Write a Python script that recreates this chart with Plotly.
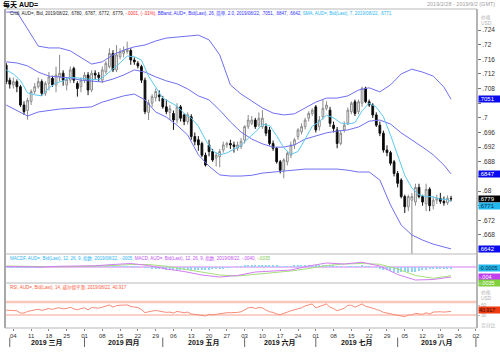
import plotly.graph_objects as go
import pandas as pd

# ---------------- data ----------------
dates = [d.strftime("%Y-%m-%d") for d in pd.bdate_range("2019-02-28", "2019-08-22")]
axis_days = pd.bdate_range("2019-02-28", "2019-09-02")

open_ = [.7144,.7103,.7090,.7099,.7085,.7035,.7020,.7045,.7072,.7085,
         .7099,.7067,.7094,.7108,.7090,.7112,.7122,.7090,.7103,.7135,
         .7094,.7085,.7103,.7117,.7076,.7122,.7117,.7103,.7126,.7140,
         .7176,.7131,.7167,.7176,.7181,.7184,.7158,.7149,.7140,.7103,
         .7015,.7040,.7055,.7062,.7053,.7030,.7015,.7012,.6994,.7030,
         .7008,.6990,.7003,.6949,.6940,.6930,.6898,.6926,.6908,.6890,
         .6894,.6912,.6926,.6930,.6926,.6917,.6922,.6939,.6976,.6985,
         .6994,.6980,.6976,.6976,.6967,.6930,.6917,.6880,.6857,.6880,
         .6898,.6926,.6949,.6962,.6976,.6999,.7012,.7030,.6976,.7003,
         .7026,.7021,.6980,.6967,.6930,.6967,.6985,.7017,.7044,.7017,
         .7040,.7081,.7044,.7035,.7008,.6980,.6958,.6912,.6905,.6880,
         .6848,.6830,.6785,.6757,.6775,.6770,.6810,.6785,.6765,.6805,
         .6760,.6775,.6780,.6772,.6768,.6780]
high = [.7150,.7110,.7110,.7105,.7090,.7045,.7055,.7078,.7095,.7110,
        .7105,.7100,.7125,.7115,.7140,.7172,.7130,.7110,.7140,.7140,
        .7100,.7110,.7125,.7125,.7130,.7130,.7125,.7140,.7155,.7190,
        .7185,.7199,.7190,.7195,.7208,.7190,.7165,.7155,.7145,.7110,
        .7050,.7065,.7080,.7075,.7060,.7050,.7035,.7020,.7040,.7035,
        .7012,.7015,.7010,.6960,.6950,.6935,.6905,.6940,.6915,.6905,
        .6915,.6935,.6935,.6940,.6935,.6935,.6945,.6980,.7008,.7005,
        .7000,.7015,.7021,.6985,.6975,.6938,.6920,.6885,.6890,.6908,
        .6935,.6945,.6972,.6985,.7000,.7018,.7026,.7035,.7005,.7049,
        .7045,.7030,.6990,.6975,.6965,.6990,.7028,.7045,.7050,.7050,
        .7085,.7085,.7050,.7040,.7015,.6990,.6965,.6925,.6910,.6885,
        .6855,.6835,.6790,.6790,.6795,.6820,.6820,.6790,.6820,.6810,
        .6785,.6790,.6795,.6785,.6788,.6787]
low = [.7092,.7080,.7080,.7070,.7030,.7008,.6995,.7035,.7065,.7080,
       .7060,.7060,.7075,.7085,.7070,.7100,.7088,.7075,.7095,.7095,
       .7058,.7070,.7095,.7062,.7070,.7105,.7100,.7095,.7120,.7135,
       .7125,.7125,.7160,.7165,.7175,.7145,.7145,.7135,.7095,.7010,
       .6994,.7030,.7045,.7045,.7025,.7010,.6995,.6967,.6985,.6990,
       .6980,.6982,.6940,.6925,.6910,.6893,.6867,.6895,.6880,.6867,
       .6865,.6905,.6918,.6915,.6905,.6910,.6915,.6930,.6970,.6980,
       .6970,.6975,.6970,.6950,.6925,.6910,.6875,.6848,.6835,.6870,
       .6890,.6915,.6940,.6955,.6968,.6990,.7005,.6960,.6965,.6995,
       .7020,.6975,.6960,.6917,.6925,.6960,.6980,.7010,.7005,.7010,
       .7030,.7040,.7030,.7000,.6975,.6950,.6905,.6895,.6870,.6840,
       .6810,.6780,.6740,.6745,.6600,.6760,.6780,.6760,.6745,.6745,
       .6750,.6765,.6765,.6760,.6762,.6772]
close = [.7099,.7092,.7099,.7085,.7035,.7017,.7048,.7072,.7085,.7099,
         .7067,.7094,.7112,.7090,.7117,.7122,.7103,.7105,.7131,.7103,
         .7080,.7103,.7117,.7076,.7122,.7117,.7110,.7131,.7149,.7176,
         .7131,.7172,.7181,.7184,.7187,.7158,.7153,.7142,.7103,.7017,
         .7040,.7058,.7072,.7058,.7030,.7017,.7025,.6994,.7030,.6999,
         .6990,.7008,.6949,.6935,.6926,.6898,.6871,.6908,.6885,.6898,
         .6908,.6926,.6930,.6926,.6922,.6926,.6936,.6976,.6994,.6994,
         .6976,.6999,.6999,.6958,.6930,.6917,.6880,.6857,.6885,.6903,
         .6926,.6940,.6967,.6976,.6994,.7012,.7021,.6967,.6994,.7026,
         .7035,.6985,.6971,.6930,.6958,.6980,.7021,.7040,.7012,.7044,
         .7081,.7044,.7035,.7008,.6980,.6958,.6912,.6905,.6876,.6848,
         .6821,.6785,.6757,.6785,.6785,.6810,.6785,.6770,.6805,.6760,
         .6775,.6780,.6772,.6768,.6780,.6779]

# Bollinger (26, 2.0) read every 3rd trading day + last day
bb_upper = [.7289,.7289,.7243,.7196,.7191,.7191,.7183,.7164,.7147,.7153,
            .7172,.7185,.7194,.7199,.7210,.7218,.7221,.7224,.7226,.7213,
            .7172,.7090,.7065,.7046,.7027,.7013,.7008,.7011,.7027,.7043,
            .7054,.7054,.7060,.7076,.7082,.7071,.7090,.7120,.7133,.7125,
            .7114,.7084,.7051]
bb_mid = [.7153,.7150,.7142,.7125,.7114,.7112,.7109,.7103,.7101,.7098,
          .7106,.7117,.7131,.7125,.7112,.7101,.7093,.7079,.7060,.7049,
          .7021,.6989,.6961,.6942,.6929,.6920,.6920,.6926,.6942,.6950,
          .6959,.6964,.6967,.6975,.6991,.6994,.6983,.6959,.6940,.6920,
          .6899,.6871,.6847]
bb_lower = [.7035,.7021,.7005,.7016,.7021,.7024,.7026,.7027,.7030,.7043,
            .7051,.7060,.7065,.7049,.7016,.7002,.6980,.6953,.6899,.6868,
            .6844,.6841,.6841,.6843,.6849,.6852,.6855,.6857,.6860,.6860,
            .6860,.6860,.6857,.6852,.6852,.6830,.6762,.6707,.6680,.6666,
            .6655,.6647,.6642]
# SMA 7, read every 2nd trading day + last day
sma7 = [.7131,.7120,.7102,.7068,.7063,.7060,.7082,.7095,.7101,.7111,
        .7109,.7106,.7105,.7104,.7117,.7134,.7150,.7169,.7167,.7158,
        .7114,.7084,.7054,.7043,.7032,.7012,.6999,.6977,.6940,.6910,
        .6899,.6904,.6914,.6925,.6944,.6961,.6982,.6979,.6951,.6918,
        .6900,.6908,.6942,.6977,.6990,.7007,.7000,.6986,.6983,.6987,
        .7019,.7040,.7029,.7003,.6953,.6900,.6843,.6808,.6790,.6785,
        .6784,.6778,.6777,.6771]
# MACD (12, 26, 9), read every 5th trading day
macd = [.0002,.0000,.0000,.0003,.0004,.0005,.0010,.0014,.0006,-.0008,
        -.0018,-.0032,-.0040,-.0034,-.0020,-.0016,-.0012,.0004,.0016,.0012,
        .0019,.0004,-.0030,-.0052,-.0050,-.0040]
macd_signal = [.0004,.0002,.0001,.0001,.0002,.0003,.0006,.0010,.0010,.0003,
               -.0008,-.0020,-.0032,-.0036,-.0030,-.0022,-.0016,-.0006,.0006,.0012,
               .0014,.0011,-.0008,-.0034,-.0045,-.0035]
# MACD histogram, every trading day (units of 0.0001)
macd_hist = [-2,-2,-2,-2,-2,-2,-2,-1,-1,-1,-1,0,1,1,2,2,2,2,2,2,
             2,2,2,2,2,2,2,3,3,4,4,4,4,4,4,4,3,2,0,-2,
             -4,-5,-5,-6,-6,-11,-10,-10,-10,-10,-10,-10,-11,-11,-12,-12,-12,-10,-9,-8,
             -8,-6,-4,-2,0,2,4,6,8,10,10,10,10,8,7,6,5,4,4,4,
             4,5,6,8,9,10,10,9,9,10,10,8,6,3,2,0,1,1,2,3,
             5,4,2,0,-3,-7,-10,-13,-16,-18,-22,-20,-20,-19,-18,-18,-15,-12,-10,-8,
             -6,-5,-5,-5,-5,-5]
# RSI 14, every trading day
rsi = [45,44,45,43,36,36,41,44,46,48,44,48,50,47,51,52,49,50,54,49,
       46,50,52,46,53,52,51,54,57,61,54,59,60,61,61,56,55,53,47,37,
       40,42,44,42,39,38,39,36,41,38,37,39,33,32,31,29,27,32,30,32,
       34,37,37,37,37,38,40,47,52,54,50,53,52,45,40,38,33,31,36,39,
       43,46,50,52,58,62,64,52,56,62,64,54,50,43,48,51,60,60,54,58,
       64,57,55,51,47,44,38,37,34,31,29,26,25,30,30,35,33,32,37,33,
       39,40,40,39,41,40.917]

price_ticks = [.668,.672,.676,.68,.684,.688,.692,.696,.7,.704,.708,.712,.716,.72,.724]
price_tick_labels = [".668",".672","",".68","",".688",".692",".696",".7",
                     "",".708",".712",".716",".72",".724"]
day_tick_labels = ["04","11","18","25","01","08","15","22","29","06","13","20","27",
                   "03","10","17","24","01","08","15","22","29","05","12","19","26","02"]
month_labels = ["2019 三月","2019 四月","2019 五月","2019 六月","2019 七月","2019 八月"]
rsi_ticks = [60, 30]

# ---------------- geometry helpers (pixels -> paper) ----------------
W, H = 500, 352
PL, PR, PT, PB = 5, 477, 9, 328
def px(x): return (x - PL) / (PR - PL)
def py(y): return (PB - y) / (PB - PT)

n = len(dates)
xi = list(range(n))
mondays = [k for k, d in enumerate(axis_days) if d.weekday() == 0]
month_starts = [k for k, d in enumerate(axis_days) if k > 0 and d.month != axis_days[k - 1].month]

FONT = "Liberation Sans, Arial, Noto Sans CJK SC, sans-serif"
C_BAND = "#6f6ff0"
C_SMA = "#5cc8f0"
C_MACD = "#d37cf2"
C_SIG = "#a6e07a"
C_HIST = "#8fd3f5"
C_RSI = "#f58a75"

fig = go.Figure()
fig.add_trace(go.Candlestick(
    x=xi, open=open_, high=high, low=low, close=close,
    increasing=dict(line=dict(color="#8a8a8a", width=1), fillcolor="#ffffff"),
    decreasing=dict(line=dict(color="#111111", width=1), fillcolor="#000000"),
    whiskerwidth=0, showlegend=False, hoverinfo="skip", xaxis="x", yaxis="y"))

bx = list(range(0, n, 3)) + [n - 1]
for vals in (bb_upper, bb_mid, bb_lower):
    fig.add_trace(go.Scatter(x=bx, y=vals, mode="lines", line=dict(color=C_BAND, width=1),
                             showlegend=False, hoverinfo="skip", yaxis="y"))
sx = list(range(0, n, 2)) + [n - 1]
fig.add_trace(go.Scatter(x=sx, y=sma7, mode="lines", line=dict(color=C_SMA, width=1),
                         showlegend=False, hoverinfo="skip", yaxis="y"))

mx = list(range(0, n, 5))
fig.add_trace(go.Bar(x=xi, y=[h / 10000 for h in macd_hist], marker=dict(color=C_HIST, line=dict(width=0)),
                     width=0.35, showlegend=False, hoverinfo="skip", yaxis="y2"))
fig.add_trace(go.Scatter(x=mx, y=macd_signal, mode="lines", line=dict(color=C_SIG, width=1),
                         showlegend=False, hoverinfo="skip", yaxis="y2"))
fig.add_trace(go.Scatter(x=mx, y=macd, mode="lines", line=dict(color=C_MACD, width=1),
                         showlegend=False, hoverinfo="skip", yaxis="y2"))

fig.add_trace(go.Scatter(x=xi, y=rsi, mode="lines", line=dict(color=C_RSI, width=1),
                         showlegend=False, hoverinfo="skip", yaxis="y3"))

shapes = []
shapes.append(dict(type="line", xref="paper", yref="y2", x0=0, x1=1, y0=0, y1=0,
                   line=dict(color=C_MACD, width=1), layer="below"))
shapes.append(dict(type="line", xref="paper", yref="y3", x0=0, x1=1, y0=70, y1=70,
                   line=dict(color="#f9c6ba", width=2.5), layer="below"))
shapes.append(dict(type="line", xref="paper", yref="y3", x0=0, x1=1, y0=30, y1=30,
                   line=dict(color="#f4a08e", width=1), layer="below"))
shapes.append(dict(type="line", xref="paper", yref="paper", x0=0, x1=0, y0=py(PT), y1=py(PB),
                   line=dict(color="#a8a8a8", width=2)))
shapes.append(dict(type="line", xref="paper", yref="paper", x0=1, x1=1, y0=py(PT), y1=py(PB),
                   line=dict(color="#b4b4b4", width=2)))
for yy in (PT, 254, 283, PB):
    shapes.append(dict(type="line", xref="paper", yref="paper", x0=0, x1=1, y0=py(yy), y1=py(yy),
                       line=dict(color="#b8b8b8", width=1)))
for k in month_starts:
    shapes.append(dict(type="line", xref="x", yref="paper", x0=k, x1=k, y0=py(337.5), y1=py(347),
                       line=dict(color="#666666", width=1)))

ann = []
def add_text(x, y, text, size=6, color="#000", xanchor="left", yanchor="middle", bold=False):
    if bold:
        text = "<b>" + text + "</b>"
    ann.append(dict(xref="paper", yref="paper", x=px(x), y=py(y), text=text, showarrow=False,
                    xanchor=xanchor, yanchor=yanchor, font=dict(size=size, color=color, family=FONT)))

add_text(1, 4.5, "每天 AUD=", size=7, bold=True)
add_text(497, 4.5, "2019/2/28 - 2019/9/2 (GMT)", size=5.5, color="#a0a0a0", xanchor="right")

leg_main = ("Cndl, AUD=, Bid, 2019/08/22, .6780, .6787, .6772, .6779, "
            "<span style='color:#ff2a2a'>-.0001, (-.01%), </span>"
            "<span style='color:#3030ff'>BBand, AUD=, Bid(Last), 26, 简单, 2.0, 2019/08/22, .7051, .6847, .6642, </span>"
            "<span style='color:#2ab4f0'>SMA, AUD=, Bid(Last), 7, 2019/08/22, .6771</span>")
add_text(8, 14, leg_main, size=4.5, color="#222")
leg_macd = ("<span style='color:#2ab4f0'>MACDF, AUD=, Bid(Last), 12, 26, 9, 指数, 2019/08/22, -.0005, </span>"
            "<span style='color:#c050f0'>MACD, AUD=, Bid(Last), 12, 26, 9, 指数, 2019/08/22, -.0040, </span>"
            "<span style='color:#80c850'>-.0035</span>")
add_text(8, 258, leg_macd, size=4.5)
add_text(8, 287.5, "RSI, AUD=, Bid(Last), 14, 威尔德平滑, 2019/08/22, 40.917", size=4.5, color="#ff5a3a")

for yy, t in ((17, "价格"), (23.5, "USD"), (292.5, "价格"), (298, "USD"), (325, "百分比")):
    add_text(479, yy, t, size=4.8, color="#b0b0b0")

def box(yval, yref, text, bg, fg="#ffffff", size=6):
    ann.append(dict(xref="paper", yref=yref, x=px(477.5), y=yval, text=text, showarrow=False,
                    xanchor="left", yanchor="middle", bgcolor=bg, borderpad=0, width=21, align="left",
                    font=dict(size=size, color=fg, family=FONT)))

box(bb_upper[-1], "y", ".7051", "#0a0af0")
box(bb_mid[-1], "y", ".6847", "#0a0af0")
box(close[-1], "y", ".6779", "#000000")
box(sma7[-1] - 0.0012, "y", ".6771", "#23b8ee", "#0a3050")
box(bb_lower[-1], "y", ".6642", "#0a0af0")
box(-0.0002, "y2", "-0.0005", "#23b8ee", "#08304a", 5.5)
box(macd[-1] + 0.0001, "y2", "-.004", "#c040f0", "#ffffff", 5.5)
box(macd_signal[-1] - 0.0027, "y2", "-.0035", "#80d040", "#ffffff", 5.5)
box(44.5, "y3", "40.917", "#f03a10", "#2a0a00", 5.3)

for k, lab in enumerate(month_labels):
    c = (month_starts[k] + month_starts[k + 1]) / 2
    ann.append(dict(xref="x", yref="paper", x=c, y=py(342.8), text="<b>" + lab + "</b>", showarrow=False,
                    xanchor="center", yanchor="middle", font=dict(size=7, color="#111", family=FONT)))

fig.update_layout(
    width=W, height=H, margin=dict(l=PL, r=W - PR, t=PT, b=H - PB, pad=0),
    paper_bgcolor="#ffffff", plot_bgcolor="#ffffff", showlegend=False,
    font=dict(family=FONT, size=7, color="#333"),
    bargap=0,
    xaxis=dict(anchor="y3", domain=[0, 1], range=[-0.34, 132.3], tickmode="array",
               tickvals=mondays, ticktext=day_tick_labels, ticks="outside", ticklen=2,
               tickcolor="#888", tickfont=dict(size=6, color="#333"), showgrid=False,
               zeroline=False, showline=False, rangeslider=dict(visible=False), fixedrange=True,
               automargin=False),
    yaxis=dict(domain=[py(254), 1], range=[0.66280, 0.72974], side="right", anchor="x",
               tickmode="array", tickvals=price_ticks, ticktext=price_tick_labels, ticks="outside",
               ticklen=3, tickcolor="#777", tickfont=dict(size=6.5, color="#333"),
               showgrid=False, zeroline=False, showline=False, automargin=False),
    yaxis2=dict(domain=[py(283), py(254)], range=[-0.0064, 0.0052], side="right", anchor="x",
                showticklabels=False, ticks="", showgrid=False, zeroline=False, automargin=False),
    yaxis3=dict(domain=[0, py(283)], range=[-10, 128.5], side="right", anchor="x",
                tickmode="array", tickvals=rsi_ticks, ticks="outside", ticklen=2, tickcolor="#bbb",
                tickfont=dict(size=4.8, color="#b0b0b0"), showgrid=False, zeroline=False,
                automargin=False),
    shapes=shapes, annotations=ann,
)

fig.write_html("out.html")
